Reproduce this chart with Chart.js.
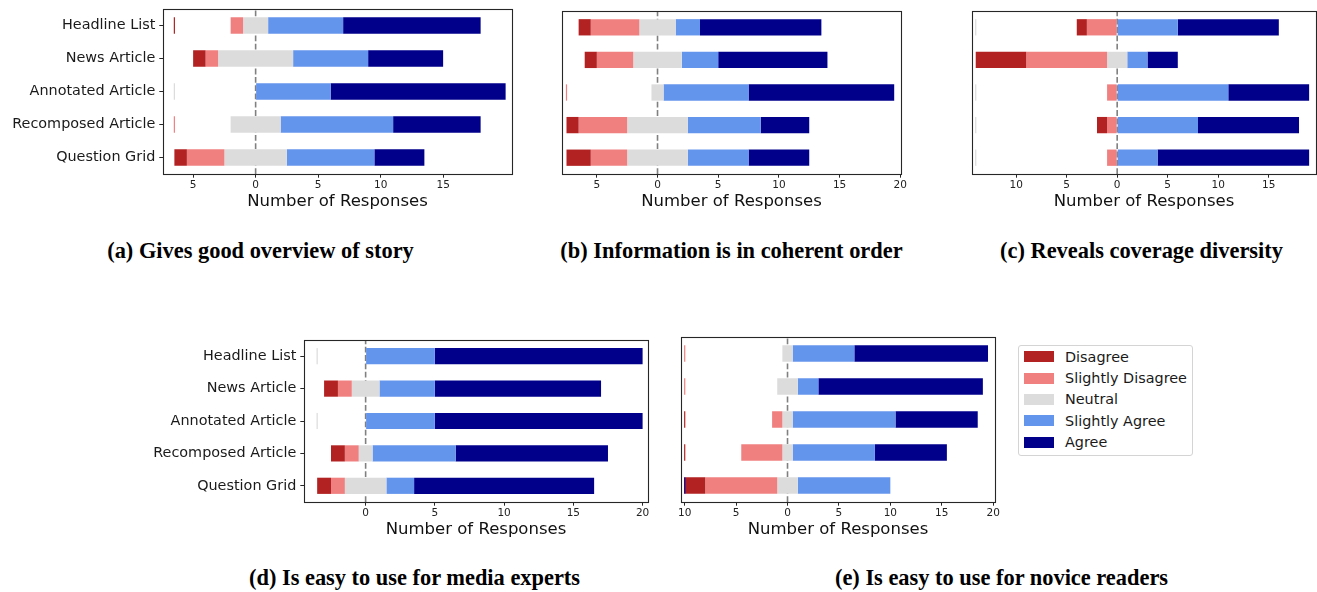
<!DOCTYPE html>
<html>
<head>
<meta charset="utf-8">
<script src="https://cdn.jsdelivr.net/npm/chart.js@4.4.1/dist/chart.umd.min.js"></script>
<style>
  body { margin: 0; width: 1317px; height: 592px; position: relative; background: #fff; overflow: hidden; }
  canvas { position: absolute; }
  .cap { position: absolute; font-family: 'Liberation Serif', serif; font-weight: bold; font-size: 22.4px;
         line-height: 26px; white-space: nowrap; transform: translateX(-50%); color: #000; }
  #legend { position: absolute; left: 1018px; top: 345px; width: 175px; height: 111px; box-sizing: border-box;
            border: 1px solid #d4d4d4; border-radius: 3px; }
  .sw { position: absolute; width: 30px; height: 11px; }
  .lt { position: absolute; font-family: 'DejaVu Sans', sans-serif; font-size: 14.4px; line-height: 16px;
        white-space: nowrap; color: #1a1a1a; }
</style>
</head>
<body>
<div id="legend"></div>
<script>
const rows = ['Headline List', 'News Article', 'Annotated Article', 'Recomposed Article', 'Question Grid'];
const levels = ['Disagree', 'Slightly Disagree', 'Neutral', 'Slightly Agree', 'Agree'];
const levelColors = ['#b22222', '#f08080', '#dcdcdc', '#6495ed', '#00008b'];

// responses per row: [Disagree, Slightly Disagree, Neutral, Slightly Agree, Agree]
const overview  = [[0, 1, 2, 6, 11], [1, 1, 6, 6, 6], [0, 0, 0, 6, 14], [0, 0, 4, 9, 7], [1, 3, 5, 7, 4]];
const order     = [[1, 4, 3, 2, 10], [1, 3, 4, 3, 9], [0, 0, 1, 7, 12], [1, 4, 5, 6, 4], [2, 3, 5, 5, 5]];
const diversity = [[1, 3, 0, 6, 10], [5, 8, 2, 2, 3], [0, 1, 0, 11, 8], [1, 1, 0, 8, 10], [0, 1, 0, 4, 15]];
const experts   = [[0, 0, 0, 5, 15], [1, 1, 2, 4, 12], [0, 0, 0, 5, 15], [1, 1, 1, 6, 11], [1, 1, 3, 2, 13]];
const novices   = [[0, 0, 1, 6, 13], [0, 0, 2, 2, 16], [0, 1, 1, 10, 8], [0, 4, 1, 8, 7], [2, 7, 2, 9, 0]];

const ticksA = [-5, 0, 5, 10, 15];
const ticksB = [-5, 0, 5, 10, 15, 20];
const ticksC = [-10, -5, 0, 5, 10, 15];
const ticksD = [0, 5, 10, 15, 20];
const ticksE = [-10, -5, 0, 5, 10, 15, 20];

const captions = [
  '(a) Gives good overview of story',
  '(b) Information is in coherent order',
  '(c) Reveals coverage diversity',
  '(d) Is easy to use for media experts',
  '(e) Is easy to use for novice readers'
];
const xTitle = 'Number of Responses';

// layout: plot box [left, top, right, bottom], canvas [left, top, width, height]
const panels = [
  { counts: overview,  ticks: ticksA, showY: true,  xr: [-7.41, 20.51], box: [163, 9, 512, 174],  cv: [0, 3, 524, 209],   cap: [260.5, 251] },
  { counts: order,     ticks: ticksB, showY: false, xr: [-7.87, 20.06], box: [562, 11, 901, 174], cv: [542, 5, 371, 207], cap: [731.5, 251] },
  { counts: diversity, ticks: ticksC, showY: false, xr: [-14.37, 19.68], box: [972, 11, 1316, 174], cv: [952, 5, 365, 207], cap: [1141.5, 251] },
  { counts: experts,   ticks: ticksD, showY: true,  xr: [-4.45, 20.39], box: [304, 340, 648, 502], cv: [140, 334, 520, 206], cap: [414.5, 578] },
  { counts: novices,   ticks: ticksE, showY: false, xr: [-10.36, 20.18], box: [681, 337, 995, 502], cv: [661, 331, 346, 209], cap: [1001.5, 578] }
];

function makeDecor(counts) {
  return {
    id: 'likertDecor',
    beforeDatasetsDraw(chart) {
      const ctx = chart.ctx, a = chart.chartArea;
      const px = chart.scales.x.getPixelForValue(0);
      ctx.save();
      ctx.strokeStyle = '#808080';
      ctx.lineWidth = 1.6;
      ctx.setLineDash([5.8, 2.5]);
      ctx.beginPath();
      ctx.moveTo(px, a.bottom);
      ctx.lineTo(px, a.top);
      ctx.stroke();
      ctx.restore();
    },
    afterDatasetsDraw(chart) {
      // zero-width segments end up as a hairline at the left edge of the padding
      const ctx = chart.ctx;
      const maxLeft = Math.max(...counts.map(c => c[0] + c[1] + c[2] / 2));
      const px = chart.scales.x.getPixelForValue(-maxLeft);
      const bars = chart.getDatasetMeta(0).data;
      counts.forEach((c, i) => {
        const j = c.lastIndexOf(0);
        if (j < 0) return;
        const b = bars[i];
        ctx.fillStyle = levelColors[j];
        ctx.fillRect(px - 0.6, b.y - b.height / 2, 1.2, b.height);
      });
    },
    afterDraw(chart) {
      const ctx = chart.ctx, a = chart.chartArea;
      ctx.save();
      ctx.strokeStyle = '#262626';
      ctx.lineWidth = 1.1;
      ctx.strokeRect(Math.round(a.left) + 0.5, Math.round(a.top) + 0.5,
        Math.round(a.right - a.left), Math.round(a.bottom - a.top));
      ctx.restore();
    }
  };
}

panels.forEach((p, n) => {
  const [cl, ct, cw, ch] = p.cv;
  const [bl, bt, br, bb] = p.box;
  const yw = bl - cl, padTop = bt - ct, padRight = cl + cw - br, xh = ct + ch - bb;

  const canvas = document.createElement('canvas');
  canvas.width = cw;
  canvas.height = ch;
  canvas.style.left = cl + 'px';
  canvas.style.top = ct + 'px';
  document.body.appendChild(canvas);

  const datasets = levels.map((lvl, j) => ({
    label: lvl,
    backgroundColor: levelColors[j],
    borderWidth: 0,
    grouped: false,
    barPercentage: 0.5,
    categoryPercentage: 1.0,
    data: p.counts.map(c => {
      let start = -(c[0] + c[1] + c[2] / 2);
      for (let k = 0; k < j; k++) start += c[k];
      return [start, start + c[j]];
    })
  }));

  new Chart(canvas, {
    type: 'bar',
    data: { labels: rows, datasets },
    plugins: [makeDecor(p.counts)],
    options: {
      indexAxis: 'y',
      responsive: false,
      animation: false,
      layout: { padding: { top: padTop, right: padRight, left: 0, bottom: 0 } },
      plugins: { legend: { display: false }, tooltip: { enabled: false } },
      scales: {
        x: {
          type: 'linear',
          min: p.xr[0],
          max: p.xr[1],
          afterBuildTicks: axis => { axis.ticks = p.ticks.map(v => ({ value: v })); },
          afterFit: axis => { axis.height = xh; },
          border: { display: false },
          grid: { drawOnChartArea: false, drawTicks: true, tickLength: 3.7, color: '#262626', lineWidth: 1 },
          ticks: {
            padding: 1.5,
            color: '#222',
            font: { family: 'DejaVu Sans', size: 10.5 },
            maxRotation: 0,
            callback: v => Math.abs(v)
          },
          title: {
            display: true,
            text: xTitle,
            color: '#111',
            font: { family: 'DejaVu Sans', size: 16.5 },
            padding: { top: 0, bottom: 0 }
          }
        },
        y: {
          afterFit: axis => {
            axis.width = yw;
            axis.paddingTop = 0;
            axis.paddingBottom = 0;
          },
          border: { display: false },
          grid: { display: p.showY, drawOnChartArea: false, drawTicks: true, tickLength: 3.7,
                  offset: false, color: '#262626', lineWidth: 1 },
          ticks: {
            display: p.showY,
            autoSkip: false,
            padding: 4,
            color: '#1a1a1a',
            font: { family: 'DejaVu Sans', size: 14.4 }
          }
        }
      }
    }
  });

  const cap = document.createElement('div');
  cap.className = 'cap';
  cap.textContent = captions[n];
  cap.style.left = p.cap[0] + 'px';
  cap.style.top = (p.cap[1] - 13) + 'px';
  document.body.appendChild(cap);
});

// legend
levels.forEach((lvl, j) => {
  const cy = 356.7 + j * 21.33;
  const sw = document.createElement('div');
  sw.className = 'sw';
  sw.style.left = '1024px';
  sw.style.top = (cy - 5.5) + 'px';
  sw.style.background = levelColors[j];
  document.body.appendChild(sw);
  const t = document.createElement('div');
  t.className = 'lt';
  t.textContent = lvl;
  t.style.left = '1065px';
  t.style.top = (cy - 8) + 'px';
  document.body.appendChild(t);
});
</script>
</body>
</html>
